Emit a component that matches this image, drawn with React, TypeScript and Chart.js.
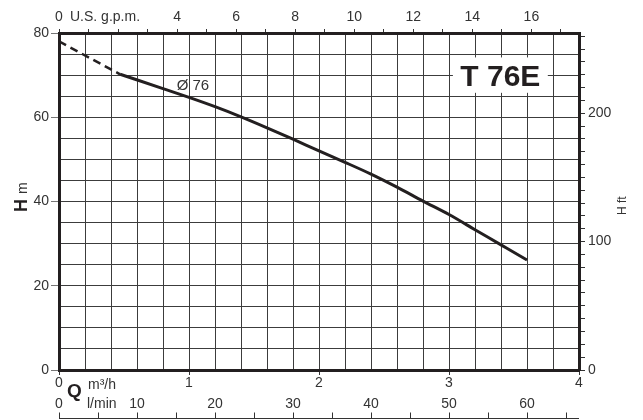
import React, { useEffect, useRef } from 'react';
import { Chart, registerables } from 'chart.js';

Chart.register(...registerables);

// ---- data ----
const dashQ = [0, 0.47];
const dashH = [78, 70.2];
const curveQ = [0.47, 0.8, 1.0, 1.2, 1.4, 1.6, 1.8, 2.0, 2.2, 2.4, 2.6, 2.8, 3.0, 3.2, 3.4, 3.6];
const curveH = [70.2, 66.8, 64.7, 62.5, 60.1, 57.5, 54.8, 52.0, 49.3, 46.5, 43.4, 40.1, 36.9, 33.3, 29.7, 26.1];

const qMax = 4; // m3/h
const hMax = 80; // m
const gpmPerM3h = 4.403;
const lminPerM3h = 1000 / 60;
const ftPerM = 1 / 0.3048;

const m3hLabels = [0, 1, 2, 3, 4];
const gpmLabels = [0, 4, 6, 8, 10, 12, 14, 16];
const lminLabels = [0, 10, 20, 30, 40, 50, 60];
const hmLabels = [0, 20, 40, 60, 80];
const hftLabels = [0, 100, 200];
const curveName = 'Ø 76';
const modelName = 'T 76E';

const FONT = '"Liberation Sans", Arial, Helvetica, sans-serif';
const INK = '#231f20';
const TXT = '#333333';
const GRID = '#3c3c3c';

const near = (v: number, list: number[]) => list.some((l) => Math.abs(l - v) < 1e-6);

const decor = {
  id: 'decor',
  afterDraw(chart: any) {
    const ctx = chart.ctx as CanvasRenderingContext2D;
    const { x, y, x3 } = chart.scales;
    ctx.save();

    // l/min axis: line at the bottom with upward ticks
    ctx.strokeStyle = TXT;
    ctx.lineWidth = 1;
    const yLine = 418.5;
    ctx.beginPath();
    ctx.moveTo(x3.left, yLine);
    ctx.lineTo(x3.right, yLine);
    x3.ticks.forEach((t: any) => {
      const px = Math.round(x3.getPixelForValue(t.value)) + 0.5;
      ctx.moveTo(px, yLine);
      ctx.lineTo(px, yLine - 6);
    });
    ctx.stroke();

    ctx.fillStyle = TXT;
    ctx.textBaseline = 'middle';
    ctx.textAlign = 'left';
    // top axis name
    ctx.font = `14px ${FONT}`;
    ctx.fillText('U.S. g.p.m.', 70, 17.5);
    // Q label
    ctx.font = `bold 19px ${FONT}`;
    ctx.fillStyle = INK;
    ctx.textBaseline = 'alphabetic';
    ctx.fillText('Q', 67, 397);
    ctx.fillStyle = TXT;
    ctx.font = `14px ${FONT}`;
    ctx.textBaseline = 'middle';
    ctx.fillText('m³/h', 88, 385);
    ctx.fillText('l/min', 87, 404.5);

    // left axis title: bold H + m, rotated
    ctx.save();
    ctx.translate(27, 212);
    ctx.rotate(-Math.PI / 2);
    ctx.textBaseline = 'alphabetic';
    ctx.fillStyle = INK;
    ctx.font = `bold 18px ${FONT}`;
    ctx.fillText('H', 0, 0);
    ctx.fillStyle = TXT;
    ctx.font = `14px ${FONT}`;
    ctx.fillText('m', 18, 0);
    ctx.restore();

    // right axis title
    ctx.save();
    ctx.translate(626, 215);
    ctx.rotate(-Math.PI / 2);
    ctx.textBaseline = 'alphabetic';
    ctx.font = `12px ${FONT}`;
    ctx.fillText('H ft', 0, 0);
    ctx.restore();

    // curve label
    ctx.font = `15px ${FONT}`;
    ctx.textBaseline = 'middle';
    ctx.fillText(curveName, x.getPixelForValue(0.905), y.getPixelForValue(67.4));

    // model box
    const bx1 = x.getPixelForValue(3.03);
    const bx2 = x.getPixelForValue(3.76);
    const by1 = y.getPixelForValue(74.2);
    const by2 = y.getPixelForValue(65.8);
    ctx.fillStyle = '#ffffff';
    ctx.fillRect(bx1, by1, bx2 - bx1, by2 - by1);
    ctx.fillStyle = INK;
    ctx.font = `bold 30px ${FONT}`;
    ctx.textAlign = 'center';
    ctx.textBaseline = 'alphabetic';
    ctx.fillText(modelName, (bx1 + bx2) / 2, 86);

    ctx.restore();
  },
};

export default function App() {
  const ref = useRef<HTMLCanvasElement | null>(null);

  useEffect(() => {
    if (!ref.current) return;
    const tickFont = { family: FONT, size: 14 };
    const chart = new Chart(ref.current, {
      type: 'line',
      data: {
        datasets: [
          {
            data: dashQ.map((q, i) => ({ x: q, y: dashH[i] })),
            borderColor: INK,
            borderWidth: 2.5,
            borderDash: [8, 5],
            pointRadius: 0,
            xAxisID: 'x',
            yAxisID: 'y',
          },
          {
            data: curveQ.map((q, i) => ({ x: q, y: curveH[i] })),
            borderColor: INK,
            borderWidth: 3,
            pointRadius: 0,
            cubicInterpolationMode: 'monotone',
            borderJoinStyle: 'round',
            xAxisID: 'x',
            yAxisID: 'y',
          },
        ],
      },
      options: {
        animation: false,
        responsive: false,
        devicePixelRatio: 1,
        layout: { padding: 0 },
        plugins: { legend: { display: false }, tooltip: { enabled: false } },
        scales: {
          x: {
            type: 'linear',
            position: 'bottom',
            weight: 0,
            min: 0,
            max: qMax,
            afterFit: (s: any) => { s.height = 25; },
            border: { display: true, color: INK, width: 3 },
            grid: {
              color: GRID,
              lineWidth: 1,
              tickLength: 5,
              tickColor: (c: any) => (near(c.tick?.value, m3hLabels) ? TXT : 'rgba(0,0,0,0)'),
            },
            ticks: {
              stepSize: 0.2,
              autoSkip: false,
              maxRotation: 0,
              padding: 0,
              color: TXT,
              font: tickFont,
              callback: (v: any) => (near(Number(v), m3hLabels) ? String(Math.round(Number(v))) : ''),
            },
          },
          x3: {
            type: 'linear',
            position: 'bottom',
            weight: 1,
            min: 0,
            max: qMax * lminPerM3h,
            afterFit: (s: any) => { s.height = 25; },
            border: { display: false },
            grid: { drawOnChartArea: false, drawTicks: false },
            ticks: {
              stepSize: 5,
              includeBounds: false,
              autoSkip: false,
              maxRotation: 0,
              padding: 1,
              color: TXT,
              font: tickFont,
              callback: (v: any) => (near(Number(v), lminLabels) ? String(Math.round(Number(v))) : ''),
            },
          },
          x2: {
            type: 'linear',
            position: 'top',
            min: 0,
            max: qMax * gpmPerM3h,
            afterFit: (s: any) => { s.height = 33; },
            border: { display: true, color: INK, width: 3 },
            grid: { drawOnChartArea: false, tickLength: 4, tickColor: TXT },
            ticks: {
              stepSize: 1,
              includeBounds: false,
              autoSkip: false,
              maxRotation: 0,
              padding: 3,
              color: TXT,
              font: tickFont,
              callback: (v: any) => (near(Number(v), gpmLabels) ? String(Math.round(Number(v))) : ''),
            },
          },
          y: {
            type: 'linear',
            position: 'left',
            min: 0,
            max: hMax,
            afterFit: (s: any) => { s.width = 59; },
            border: { display: true, color: INK, width: 3 },
            grid: {
              color: GRID,
              lineWidth: 1,
              tickLength: 8,
              tickColor: (c: any) => (near(c.tick?.value, hmLabels) ? '#777777' : 'rgba(0,0,0,0)'),
            },
            ticks: {
              stepSize: 5,
              autoSkip: false,
              padding: 2,
              color: TXT,
              font: tickFont,
              callback: (v: any) => (near(Number(v), hmLabels) ? String(Math.round(Number(v))) : ''),
            },
          },
          y2: {
            type: 'linear',
            position: 'right',
            min: 0,
            max: hMax * ftPerM,
            afterFit: (s: any) => { s.width = 64; },
            border: { display: true, color: INK, width: 3 },
            grid: { drawOnChartArea: false, tickLength: 6, tickColor: TXT },
            ticks: {
              stepSize: 10,
              includeBounds: false,
              autoSkip: false,
              padding: 3,
              color: TXT,
              font: tickFont,
              callback: (v: any) => (near(Number(v), hftLabels) ? String(Math.round(Number(v))) : ''),
            },
          },
        },
      } as any,
      plugins: [decor],
    });
    return () => chart.destroy();
  }, []);

  return (
    <div style={{ position: 'absolute', left: 0, top: 0, width: 643, height: 420, background: '#fff' }}>
      <canvas ref={ref} width={643} height={420} style={{ display: 'block', width: 643, height: 420 }} />
    </div>
  );
}
